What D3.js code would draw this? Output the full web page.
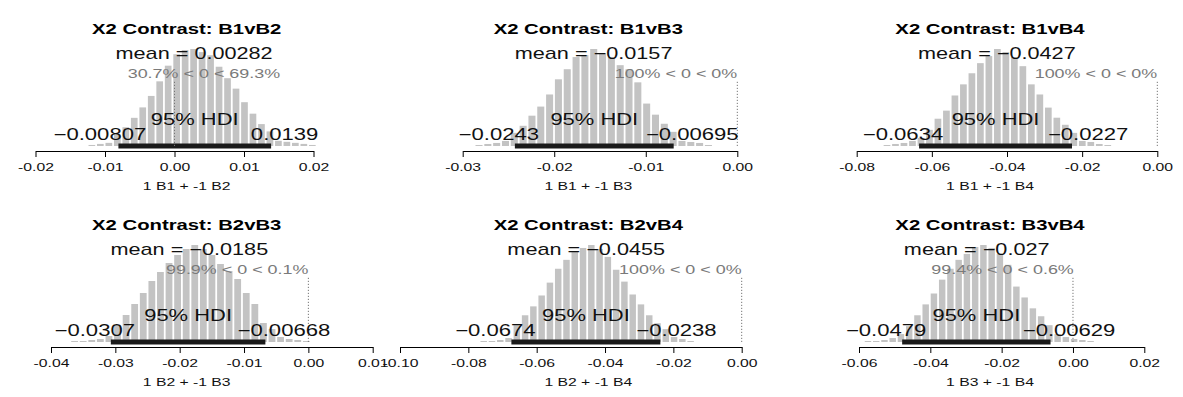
<!DOCTYPE html>
<html>
<head>
<meta charset="utf-8">
<script src="https://cdn.jsdelivr.net/npm/d3@7"></script>
<style>
  html, body { margin: 0; padding: 0; background: #fff; }
  svg { display: block; }
  text { font-family: "Liberation Sans", Arial, sans-serif; }
</style>
</head>
<body>
<svg id="chart" width="1183" height="397"></svg>
<script>
// ---------------- DATA ----------------
const titles = ["X2 Contrast: B1vB2", "X2 Contrast: B1vB3", "X2 Contrast: B1vB4",
                "X2 Contrast: B2vB3", "X2 Contrast: B2vB4", "X2 Contrast: B3vB4"];
const xLabels = ["1 B1 + -1 B2", "1 B1 + -1 B3", "1 B1 + -1 B4",
                 "1 B2 + -1 B3", "1 B2 + -1 B4", "1 B3 + -1 B4"];
const meanValues = [0.00282, -0.0157, -0.0427, -0.0185, -0.0455, -0.027];
const meanLabels = ["0.00282", "\u22120.0157", "\u22120.0427", "\u22120.0185", "\u22120.0455", "\u22120.027"];
const hdiLow  = [-0.00807, -0.0243, -0.0634, -0.0307, -0.0674, -0.0479];
const hdiHigh = [0.0139, -0.00695, -0.0227, -0.00668, -0.0238, -0.00629];
const hdiLowLabels  = ["\u22120.00807", "\u22120.0243", "\u22120.0634", "\u22120.0307", "\u22120.0674", "\u22120.0479"];
const hdiHighLabels = ["0.0139", "\u22120.00695", "\u22120.0227", "\u22120.00668", "\u22120.0238", "\u22120.00629"];
const pctBelow = [30.7, 100, 100, 99.9, 100, 99.4];
const pctAbove = [69.3, 0, 0, 0.1, 0, 0.6];
const compValue = 0;
const tickValues = [
  [-0.02, -0.01, 0, 0.01, 0.02],
  [-0.03, -0.02, -0.01, 0],
  [-0.08, -0.06, -0.04, -0.02, 0],
  [-0.04, -0.03, -0.02, -0.01, 0, 0.01],
  [-0.10, -0.08, -0.06, -0.04, -0.02, 0],
  [-0.06, -0.04, -0.02, 0, 0.02]
];
const tickLabels = [
  ["-0.02", "-0.01", "0.00", "0.01", "0.02"],
  ["-0.03", "-0.02", "-0.01", "0.00"],
  ["-0.08", "-0.06", "-0.04", "-0.02", "0.00"],
  ["-0.04", "-0.03", "-0.02", "-0.01", "0.00", "0.01"],
  ["-0.10", "-0.08", "-0.06", "-0.04", "-0.02", "0.00"],
  ["-0.06", "-0.04", "-0.02", "0.00", "0.02"]
];
// histogram bins: first left edge, bin width, relative densities
const binStart = [-0.0125, -0.0287, -0.07307, -0.0370, -0.07671, -0.05864];
const binWidth = [0.00122, 0.000964, 0.00226, 0.001334, 0.002422, 0.002312];
const density1 = [1,2,3, 11,18,27,37,48,62,77,88,92,93,90,87,76,65,55,42,31,21,14, 5,4,3,2,1];
const density2 = [1,2,3,5, 13,20,30,39,51,66,76,88,90,96,92,88,80,76,63,42,31,22,14, 5,4,3,1];
const density3 = [1,2,3,5, 8,16,27,35,50,61,72,82,89,96,93,88,79,61,51,38,28,21,13, 5,4,2,1];
const density4 = [1,1,2,3,6, 17,27,38,49,61,70,79,87,93,97,93,87,78,71,63,49,38,19,13, 5,3,2,1];
const density5 = [1,1,2,4, 17,27,36,47,60,74,83,91,95,98,94,86,73,61,48,38,27,19,13, 5,3,1];
const density6 = [1,1,2,4,8, 16,27,38,49,63,74,83,89,96,98,95,89,78,56,45,34,26,17, 8,5,3,2,1];
const densities = [density1, density2, density3, density4, density5, density6];

// ---------------- LAYOUT ----------------
const SX = 1.38;                       // horizontal stretch of the original image text
const axisPx = [[35.5, 313.5], [462.7, 737.3], [856.7, 1157.3],
                [51, 372.7], [400, 741.7], [859, 1144.3]];
const colCenters = [186.7, 588.3, 990];
const rowAxisY = [151, 347];
const barMaxPx = 97;

const svg = d3.select("#chart");
svg.append("rect").attr("width", 1183).attr("height", 397).attr("fill", "#fff");

function sText(g, x, y, str, size, opt = {}) {
  const t = g.append("text")
    .attr("transform", `translate(${x},${y}) scale(${SX},1)`)
    .attr("text-anchor", opt.anchor || "middle")
    .attr("font-size", size)
    .attr("font-weight", opt.bold ? "bold" : "normal")
    .attr("fill", opt.fill || "#000")
    .text(str);
  return t;
}

titles.forEach((title, i) => {
  const col = i % 3, row = Math.floor(i / 3);
  const axisY = rowAxisY[row];
  const base = axisY - 5;
  const cx = colCenters[col];
  const g = svg.append("g");

  const ticks = tickValues[i];
  const x = d3.scaleLinear().domain([ticks[0], ticks[ticks.length - 1]]).range(axisPx[i]);
  const dens = densities[i];
  const y = d3.scaleLinear().domain([0, d3.max(dens)]).range([base, base - barMaxPx]);

  const bins = dens.map((d, k) => ({ x0: binStart[i] + k * binWidth[i], x1: binStart[i] + (k + 1) * binWidth[i], d }));

  // bars
  g.append("g").selectAll("rect").data(bins).join("rect")
    .attr("x", b => x(b.x0) + 0.9)
    .attr("width", b => Math.max(0.5, x(b.x1) - x(b.x0) - 1.8))
    .attr("y", b => y(b.d))
    .attr("height", b => base - y(b.d))
    .attr("fill", "#c3c3c3");

  // HDI bar
  g.append("line")
    .attr("x1", x(hdiLow[i])).attr("x2", x(hdiHigh[i]))
    .attr("y1", base).attr("y2", base)
    .attr("stroke", "#1a1a1a").attr("stroke-width", 5).attr("stroke-linecap", "butt");

  // axis
  const ax = g.append("g").attr("transform", `translate(0,${axisY})`)
    .call(d3.axisBottom(x).tickValues(ticks).tickFormat((d, k) => tickLabels[i][k])
      .tickSize(6).tickSizeOuter(0));
  ax.select(".domain").attr("stroke", "#000");
  ax.selectAll(".tick line").attr("stroke", "#000");
  ax.selectAll(".tick text")
    .attr("y", 19.7).attr("dy", 0)
    .attr("font-size", 11.4)
    .attr("font-family", "Liberation Sans, Arial, sans-serif")
    .attr("fill", "#111")
    .attr("transform", `scale(${SX},1)`);

  // title, axis label
  sText(g, cx, axisY - 116.7, title, 14.7, { bold: true });
  sText(g, cx, axisY + 39, xLabels[i], 11.4, { fill: "#111" });

  // mean
  const maxD = d3.max(dens);
  sText(g, x(meanValues[i]), y(0.9 * maxD), "mean = " + meanLabels[i], 15.7, { fill: "#111" });

  // comparison value dotted line
  g.append("line")
    .attr("x1", x(compValue)).attr("x2", x(compValue))
    .attr("y1", y(0)).attr("y2", y(0.672 * maxD))
    .attr("stroke", "#777").attr("stroke-width", 1).attr("stroke-dasharray", "1.2,1.8");

  // percent text
  const pct = sText(g, 0, y(0.7 * maxD), `${pctBelow[i]}% < ${compValue} < ${pctAbove[i]}%`, 13, { anchor: "start", fill: "#7a7a7a" });
  const pw = pct.node().getComputedTextLength() * SX;
  pct.attr("transform", `translate(${x(compValue) - pctBelow[i] / 100 * pw},${y(0.7 * maxD)}) scale(${SX},1)`);

  // HDI text
  sText(g, x((hdiLow[i] + hdiHigh[i]) / 2), base - 21, "95% HDI", 15.9, { fill: "#111" });
  const lo = sText(g, 0, base - 6, hdiLowLabels[i], 16, { anchor: "start", fill: "#111" });
  const lw = lo.node().getComputedTextLength() * SX;
  lo.attr("transform", `translate(${x(hdiLow[i]) - 0.7 * lw},${base - 6}) scale(${SX},1)`);
  const hi = sText(g, 0, base - 6, hdiHighLabels[i], 16, { anchor: "start", fill: "#111" });
  const hw = hi.node().getComputedTextLength() * SX;
  hi.attr("transform", `translate(${x(hdiHigh[i]) - 0.3 * hw},${base - 6}) scale(${SX},1)`);
});
</script>
</body>
</html>
